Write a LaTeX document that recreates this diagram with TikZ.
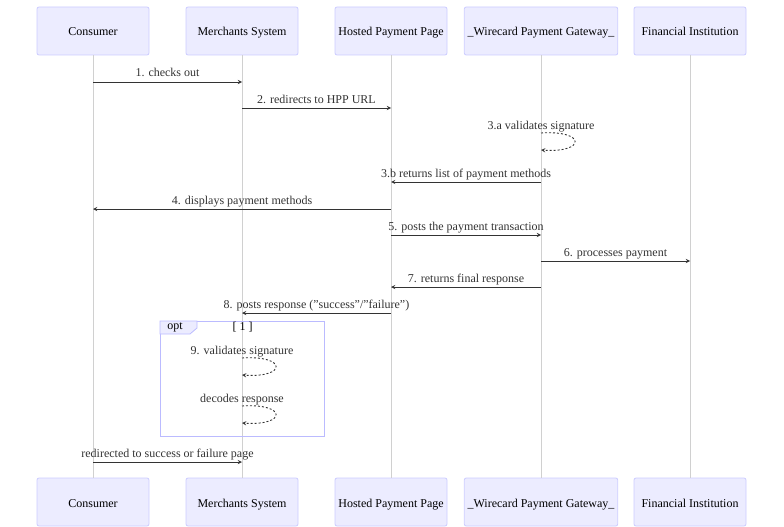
\documentclass[tikz,border=0pt]{standalone}
\usepackage{fontspec}
\setmainfont{Liberation Serif}
\usetikzlibrary{calc}
\definecolor{actfill}{HTML}{ECECFF}
\definecolor{actline}{HTML}{CCCCFF}
\definecolor{optline}{HTML}{BBBBFF}
\definecolor{lifeline}{HTML}{D0D0D0}
\definecolor{msgline}{HTML}{333333}

\begin{document}
\begin{tikzpicture}[>=stealth,x=1pt,y=-1pt,font=\fontsize{12}{14}\selectfont,
    actor/.style={rectangle,draw=actline,fill=actfill,rounded corners=2pt,minimum width=112pt,minimum height=48pt,line width=0.8pt,text height=10pt,text depth=0pt},
    msg/.style={->,draw=msgline,line width=0.9pt},
    loopmsg/.style={->,draw=msgline,line width=0.9pt,dash pattern=on 2pt off 2pt},
    lbl/.style={anchor=base,inner sep=0pt,text=msgline}]
    \useasboundingbox (0,0) rectangle (784,527);
    % actors, top and bottom
    \node (cons) at (93,31) [actor]{Consumer};
    \node (merch) at (242,31) [actor]{Merchants System};
    \node (hpp) at (391,31) [actor]{Hosted Payment Page};
    \node (wire) at (541,31) [actor]{\_Wirecard Payment Gateway\_};
    \node (fin) at (690,31) [actor]{Financial Institution};
    \node (cons2) at (93,502) [actor]{Consumer};
    \node (merch2) at (242,502) [actor]{Merchants System};
    \node (hpp2) at (391,502) [actor]{Hosted Payment Page};
    \node (wire2) at (541,502) [actor]{\_Wirecard Payment Gateway\_};
    \node (fin2) at (690,502) [actor]{Financial Institution};
    % lifelines
    \draw[lifeline,line width=0.8pt] (cons.south) -- (cons2.north);
    \draw[lifeline,line width=0.8pt] (merch.south) -- (merch2.north);
    \draw[lifeline,line width=0.8pt] (hpp.south) -- (hpp2.north);
    \draw[lifeline,line width=0.8pt] (wire.south) -- (wire2.north);
    \draw[lifeline,line width=0.8pt] (fin.south) -- (fin2.north);
    % opt frame
    \draw[optline,line width=0.8pt] (160,321) rectangle (324,436);
    \draw[optline,fill=actfill,line width=0.8pt] (160,321) -- (197,321) -- (197,328) -- (190,334) -- (160,334) -- cycle;
    \node (optlbl) at (175,327.5) [inner sep=0pt]{opt};
    \node (optcond) at (242.5,327.5) [inner sep=0pt]{[ 1 ]};
    % messages
    \draw[msg] (cons |- 0,82) -- (merch |- 0,82) node[midway,lbl,yshift=5pt]{1. checks out};
    \draw[msg] (merch |- 0,108) -- (hpp |- 0,108) node[midway,lbl,yshift=5pt]{2. redirects to HPP URL};
    \node at ($(wire |- 0,133)+(0,-4)$) [lbl]{3.a validates signature};
    \draw[loopmsg] (wire |- 0,133) .. controls ($(wire |- 0,130)+(45,0)$) and ($(wire |- 0,153)+(45,0)$) .. (wire |- 0,150);
    \draw[msg] (wire |- 0,182) -- (hpp |- 0,182) node[midway,lbl,yshift=5pt]{3.b returns list of payment methods};
    \draw[msg] (hpp |- 0,209) -- (cons |- 0,209) node[midway,lbl,yshift=5pt]{4. displays payment methods};
    \draw[msg] (hpp |- 0,235) -- (wire |- 0,235) node[midway,lbl,yshift=5pt]{5. posts the payment transaction};
    \draw[msg] (wire |- 0,261) -- (fin |- 0,261) node[midway,lbl,yshift=5pt]{6. processes payment};
    \draw[msg] (wire |- 0,287) -- (hpp |- 0,287) node[midway,lbl,yshift=5pt]{7. returns final response};
    \draw[msg] (hpp |- 0,313) -- (merch |- 0,313) node[midway,lbl,yshift=5pt]{8. posts response (\symbol{34}success\symbol{34}/\symbol{34}failure\symbol{34})};
    \node at ($(merch |- 0,358)+(0,-4)$) [lbl]{9. validates signature};
    \draw[loopmsg] (merch |- 0,358) .. controls ($(merch |- 0,355)+(45,0)$) and ($(merch |- 0,378)+(45,0)$) .. (merch |- 0,375);
    \node at ($(merch |- 0,406)+(0,-4)$) [lbl]{decodes response};
    \draw[loopmsg] (merch |- 0,406) .. controls ($(merch |- 0,403)+(45,0)$) and ($(merch |- 0,426)+(45,0)$) .. (merch |- 0,423);
    \draw[msg] (cons |- 0,462) -- (merch |- 0,462) node[midway,lbl,yshift=5pt]{redirected to success or failure page};
  \end{tikzpicture}
\end{document}
